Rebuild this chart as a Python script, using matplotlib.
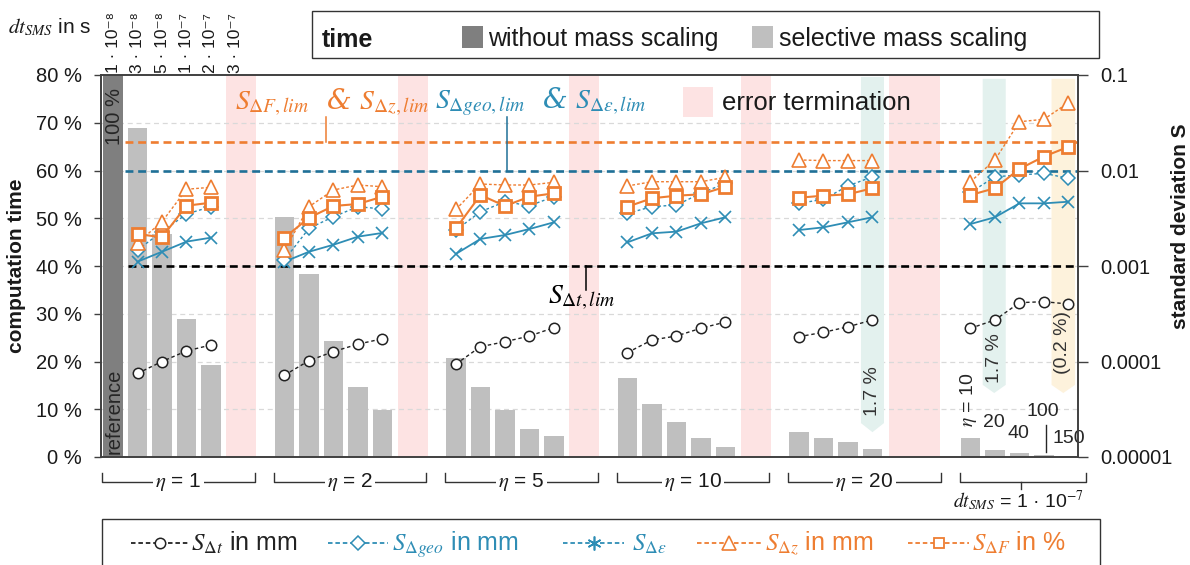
import matplotlib
matplotlib.use('Agg')
import matplotlib.pyplot as plt
from matplotlib.patches import Rectangle, Polygon
from matplotlib.lines import Line2D
from matplotlib.ticker import NullLocator
import matplotlib.transforms as mtransforms

plt.rcParams['font.family'] = ['Liberation Sans', 'DejaVu Sans']
plt.rcParams['mathtext.fontset'] = 'stix'

# ---------------- data ----------------
group_eta = ['1', '2', '5', '10', '20']
dt_labels = ['1 · 10⁻⁸', '3 · 10⁻⁸', '5 · 10⁻⁸', '1 · 10⁻⁷', '2 · 10⁻⁷', '3 · 10⁻⁷']
eta_last = ['10', '20', '40', '100', '150']

time_ref = 100.0
time_sms = [
    [68.8, 46.7, 28.8, 19.3],
    [50.3, 38.3, 24.3, 14.6, 9.8],
    [20.8, 14.6, 9.8, 5.9, 4.4],
    [16.5, 11.2, 7.4, 3.9, 2.0],
    [5.3, 3.9, 3.1, 1.7],
    [3.9, 1.5, 0.9, 0.35, 0.2],
]
s_dt = [
    [7.5e-5, 1.0e-4, 1.29e-4, 1.49e-4],
    [7.2e-5, 1.02e-4, 1.27e-4, 1.52e-4, 1.73e-4],
    [9.4e-5, 1.43e-4, 1.61e-4, 1.85e-4, 2.26e-4],
    [1.24e-4, 1.68e-4, 1.85e-4, 2.23e-4, 2.59e-4],
    [1.82e-4, 2.02e-4, 2.31e-4, 2.72e-4],
    [2.23e-4, 2.72e-4, 4.13e-4, 4.23e-4, 4.0e-4],
]
s_geo = [
    [1.47e-3, 2.29e-3, 3.5e-3, 4.18e-3],
    [1.16e-3, 2.48e-3, 3.28e-3, 4.18e-3, 3.95e-3],
    [2.38e-3, 3.7e-3, 4.71e-3, 4.28e-3, 5.32e-3],
    [3.56e-3, 4.18e-3, 4.35e-3, 5.77e-3, 7.35e-3],
    [4.53e-3, 4.99e-3, 6.89e-3, 8.61e-3],
    [5.9e-3, 8.6e-3, 8.97e-3, 9.35e-3, 8.28e-3],
]
s_eps = [
    [1.11e-3, 1.41e-3, 1.8e-3, 1.98e-3],
    [1.11e-3, 1.41e-3, 1.67e-3, 2.03e-3, 2.22e-3],
    [1.34e-3, 1.92e-3, 2.11e-3, 2.44e-3, 2.87e-3],
    [1.77e-3, 2.2e-3, 2.29e-3, 2.8e-3, 3.24e-3],
    [2.38e-3, 2.54e-3, 2.87e-3, 3.24e-3],
    [2.75e-3, 3.24e-3, 4.53e-3, 4.53e-3, 4.71e-3],
]
s_dz = [
    [1.75e-3, 2.91e-3, 6.36e-3, 6.67e-3],
    [1.47e-3, 4.18e-3, 6.25e-3, 7.05e-3, 6.76e-3],
    [3.92e-3, 7.22e-3, 7.05e-3, 7.05e-3, 7.52e-3],
    [6.89e-3, 7.63e-3, 7.63e-3, 7.63e-3, 8.49e-3],
    [1.29e-2, 1.27e-2, 1.27e-2, 1.27e-2],
    [7.63e-3, 1.29e-2, 3.24e-2, 3.44e-2, 5.13e-2],
]
s_dF = [
    [2.16e-3, 2.0e-3, 4.28e-3, 4.6e-3],
    [1.98e-3, 3.2e-3, 4.25e-3, 4.46e-3, 5.32e-3],
    [2.48e-3, 5.54e-3, 4.25e-3, 5.32e-3, 5.77e-3],
    [4.18e-3, 5.12e-3, 5.45e-3, 5.63e-3, 6.76e-3],
    [5.19e-3, 5.45e-3, 5.63e-3, 6.52e-3],
    [5.54e-3, 6.52e-3, 1.04e-2, 1.4e-2, 1.77e-2],
]
lim_dF_dz = 0.02
lim_geo_eps = 0.01
lim_dt = 0.001
band_labels = ['1.7 %', '1.7 %', '(0.2 %)']

# ---------------- style ----------------
W, H = 1190, 565
DARK = '#7F7F7F'
LIGHT = '#BFBFBF'
PINK = '#FDE3E3'
GREEN = '#E3F1EE'
YELLOW = '#FDF2DC'
ORANGE = '#EE7D31'
BLUE = '#2E8DB5'
BLUE_D = '#1F7097'
SPINE = '#404040'
TXT = '#1a1a1a'

def fx(x):
    return x / W

def fy(y):
    return 1 - y / H

fig = plt.figure(figsize=(W / 100, H / 100), dpi=100)
ax = fig.add_axes([fx(101), fy(457), (1078 - 101) / W, (457 - 75) / H])
ax2 = ax.twinx()

GSTEP = 7
line_start = [1, 0, 0, 0, 0, 0]

ax.set_xlim(-0.49, 39.39)
ax.set_ylim(0, 80)
ax.set_yticks(range(0, 81, 10))
ax.set_yticklabels([f'{v} %' for v in range(0, 81, 10)])
ax.set_xticks([])
for v in range(10, 80, 10):
    ax.axhline(v, color='#D9D9D9', lw=0.9, ls=(0, (4, 3)), zorder=0.5)

# error termination spans
err_spans = [(4.63, 5.84), (4.63, 5.84), (4.63, 5.84), (4.63, 5.84), (3.67, 5.76)]
for g, (a, b) in enumerate(err_spans):
    ax.axvspan(GSTEP * g + a, GSTEP * g + b, color=PINK, lw=0, zorder=0.4)

# highlighted bands with pointed bottom
bands = [(30.53, 31.47, 79.6, 7.1, 5.2, GREEN),
         (35.5, 36.44, 79.2, 15.1, 13.4, GREEN),
         (38.31, 39.27, 79.2, 15.1, 13.4, YELLOW)]
for (x0, x1, top, side, tip, col) in bands:
    ax.add_patch(Polygon([(x0, top), (x1, top), (x1, side), ((x0 + x1) / 2, tip), (x0, side)],
                         closed=True, facecolor=col, edgecolor='none', zorder=0.6))

# bars
ax.bar(0, time_ref, width=0.8, color=DARK, zorder=2)
for g, vals in enumerate(time_sms):
    xs = [GSTEP * g + line_start[g] + i for i in range(len(vals))]
    ax.bar(xs, vals, width=0.8, color=LIGHT, zorder=2)

ax.text(0.05, 77.2, '100 %', rotation=90, ha='center', va='top', fontsize=14.5, color='#262626', zorder=3)
ax.text(0.05, 0.7, 'reference', rotation=90, ha='center', va='bottom', fontsize=14.5, color='#262626', zorder=3)

# band labels
ax.text(31.0, 13.8, band_labels[0], rotation=90, ha='center', va='center', fontsize=14, color='#333333', zorder=3)
ax.text(35.98, 20.7, band_labels[1], rotation=90, ha='center', va='center', fontsize=14, color='#333333', zorder=3)
ax.text(38.75, 24.0, band_labels[2], rotation=90, ha='center', va='center', fontsize=14, color='#333333', zorder=3)

# eta labels of last group
ax.text(34.9, 12.0, r'$\eta$ = ' + eta_last[0], rotation=90, ha='center', va='center', fontsize=14, color='#262626', zorder=3)
ax.text(35.95, 7.3, eta_last[1], ha='center', va='center', fontsize=14, color='#262626', zorder=3)
ax.text(36.95, 5.0, eta_last[2], ha='center', va='center', fontsize=14, color='#262626', zorder=3)
ax.text(37.95, 9.5, eta_last[3], ha='center', va='center', fontsize=14, color='#262626', zorder=3)
ax.text(39.0, 3.8, eta_last[4], ha='center', va='center', fontsize=14, color='#262626', zorder=3)
ax.plot([38.1, 38.1], [1.0, 6.7], color='#262626', lw=1.0, zorder=3)

# ---------------- right axis lines ----------------
ax2.set_yscale('log')
ax2.set_ylim(1e-5, 0.1)
ax2.set_yticks([1e-5, 1e-4, 1e-3, 1e-2, 1e-1])
ax2.set_yticklabels(['0.00001', '0.0001', '0.001', '0.01', '0.1'])
ax2.yaxis.set_minor_locator(NullLocator())

ax2.hlines(lim_dF_dz, 0.49, 39.39, colors=ORANGE, lw=1.9, linestyles=[(0, (3, 1.8))], zorder=2)
ax2.hlines(lim_geo_eps, 0.49, 39.39, colors=BLUE_D, lw=1.9, linestyles=[(0, (3, 1.8))], zorder=2)
ax2.hlines(lim_dt, 0.61, 39.39, colors='black', lw=1.9, linestyles=[(0, (3, 1.8))], zorder=2)
ax2.plot([8.69, 8.69], [lim_dF_dz, 0.0363], color=ORANGE, lw=1.1)
ax2.plot([16.07, 16.07], [lim_geo_eps, 0.0363], color=BLUE_D, lw=1.1)
ax2.plot([19.29, 19.29], [lim_dt, 5.6e-4], color='black', lw=1.1)

series = [
    (s_dt, dict(color='#222222', ls=(0, (2.5, 2)), lw=1.0, marker='o', ms=7.5, mfc='white', mec='#222222', mew=1.1)),
    (s_eps, dict(color=BLUE, ls='-', lw=1.3, marker='x', ms=8, mec=BLUE, mew=1.2)),
    (s_geo, dict(color=BLUE, ls=(0, (2, 1.8)), lw=1.0, marker='D', ms=7, mfc='white', mec=BLUE, mew=1.1)),
    (s_dz, dict(color=ORANGE, ls=(0, (2, 1.5)), lw=1.0, marker='^', ms=10.5, mfc='white', mec=ORANGE, mew=1.2)),
    (s_dF, dict(color=ORANGE, ls='-', lw=1.5, marker='s', ms=9, mfc='white', mec=ORANGE, mew=2.0)),
]
for data, kw in series:
    for g, vals in enumerate(data):
        xs = [GSTEP * g + line_start[g] + i for i in range(len(vals))]
        ax2.plot(xs, vals, zorder=4, **kw)

# limit annotations
ax2.text(5.0, 0.052, r'$S_{\Delta F,lim}$  & $S_{\Delta z,lim}$', color=ORANGE, fontsize=20,
         ha='left', va='center', fontstyle='italic', family=['DejaVu Serif'])
ax2.text(13.15, 0.052, r'$S_{\Delta geo,lim}$  & $S_{\Delta \varepsilon,lim}$', color=BLUE, fontsize=20,
         ha='left', va='center', fontstyle='italic', family=['DejaVu Serif'])
ax2.text(17.75, 4.6e-4, r'$S_{\Delta t,lim}$', color='black', fontsize=20, ha='left', va='center')

# ---------------- spines & ticks ----------------
for a in (ax, ax2):
    for sp in a.spines.values():
        sp.set_color(SPINE)
        sp.set_linewidth(1.2)
ax.tick_params(axis='y', length=5, width=1, color=SPINE, pad=9, labelsize=14.5, labelcolor=TXT)
ax2.tick_params(axis='y', length=7, width=1, color=SPINE, pad=9, labelsize=14.5, labelcolor=TXT)

fig.text(fx(17), fy(266), 'computation time', rotation=90, fontweight='bold', fontsize=15,
         ha='center', va='center', color=TXT)
fig.text(fx(1180), fy(226), 'standard deviation S', rotation=90, fontweight='bold', fontsize=15,
         ha='center', va='center', color=TXT)

# ---------------- top dt labels ----------------
trans_top = mtransforms.blended_transform_factory(ax.transData, fig.transFigure)
for i, lab in enumerate(dt_labels):
    fig.text(i, fy(73), lab, transform=trans_top, rotation=90, ha='center', va='bottom', fontsize=12.5, color=TXT)
fig.text(fx(8), fy(27), r'$dt_{SMS}$ in s', fontsize=15, ha='left', va='center', color=TXT)

# ---------------- group brackets ----------------
ty0, ty1 = fy(473), fy(482)
for g, eta in enumerate(group_eta):
    a, b = GSTEP * g - 0.44, GSTEP * g + 5.78
    fig.add_artist(Line2D([a, a, b, b], [ty0, ty1, ty1, ty0], transform=trans_top, color='#333333', lw=1.0))
    fig.text((a + b) / 2, ty1, r'$\eta$ = ' + eta, transform=trans_top, ha='center', va='center', fontsize=15,
             color=TXT, bbox=dict(facecolor='white', edgecolor='none', pad=1.5))
a, b = 35 - 0.41, 35 + 4.73
c = 35 + 2.05
fig.add_artist(Line2D([a, a, b, b], [ty0, ty1, ty1, ty0], transform=trans_top, color='#333333', lw=1.0))
fig.add_artist(Line2D([c, c], [ty1, fy(489)], transform=trans_top, color='#333333', lw=1.0))
fig.text(fx(1018), fy(501), r'$dt_{SMS}$ = 1 · 10$^{-7}$', ha='center', va='center', fontsize=14, color=TXT)

# ---------------- top legend ----------------
fig.add_artist(Rectangle((fx(312), fy(58)), (1099 - 312) / W, 47 / H, transform=fig.transFigure,
                         facecolor='white', edgecolor='#333333', lw=1.0))
fig.text(fx(322), fy(47), 'time', fontweight='bold', fontsize=18, ha='left', va='baseline', color=TXT)
fig.add_artist(Rectangle((fx(462), fy(48)), 21 / W, 22 / H, transform=fig.transFigure, facecolor=DARK, edgecolor='none'))
fig.text(fx(488), fy(46), 'without mass scaling', fontsize=18, ha='left', va='baseline', color=TXT)
fig.add_artist(Rectangle((fx(752), fy(48)), 21 / W, 22 / H, transform=fig.transFigure, facecolor=LIGHT, edgecolor='none'))
fig.text(fx(779), fy(46), 'selective mass scaling', fontsize=18, ha='left', va='baseline', color=TXT)

# error termination legend
fig.add_artist(Rectangle((fx(683), fy(117)), 30 / W, 30 / H, transform=fig.transFigure, facecolor=PINK, edgecolor='none'))
fig.text(fx(722), fy(110), 'error termination', fontsize=18.5, ha='left', va='baseline', color=TXT)

# ---------------- bottom legend ----------------
fig.add_artist(Rectangle((fx(102), fy(572)), (1100 - 102) / W, (572 - 519) / H, transform=fig.transFigure,
                         facecolor='white', edgecolor='#333333', lw=1.0))
leg_items = [
    (131, 188, 191, r'$S_{\Delta t}$ in mm', '#222222', series[0][1]),
    (328, 388, 392, r'$S_{\Delta geo}$ in mm', BLUE, series[2][1]),
    (563, 624, 632, r'$S_{\Delta \varepsilon}$', BLUE, dict(series[1][1], marker=(6, 2, 0), ms=10)),
    (697, 761, 765, r'$S_{\Delta z}$ in mm', ORANGE, series[3][1]),
    (908, 969, 972, r'$S_{\Delta F}$ in %', ORANGE, dict(series[4][1], ms=7.5, mew=1.3)),
]
ly = fy(543)
for x0, x1, xt, lab, col, kw in leg_items:
    fig.add_artist(Line2D([fx(x0), fx(x1)], [ly, ly], transform=fig.transFigure, color=kw['color'],
                          lw=1.3, ls=(0, (2.5, 1.6))))
    mk = {k: v for k, v in kw.items() if k not in ('ls', 'lw', 'color')}
    fig.add_artist(Line2D([fx((x0 + x1) / 2)], [ly], transform=fig.transFigure, ls='none', **mk))
    fig.text(fx(xt), fy(551), lab, fontsize=18, ha='left', va='baseline', color=col)

fig.savefig('out.png', dpi=100)
